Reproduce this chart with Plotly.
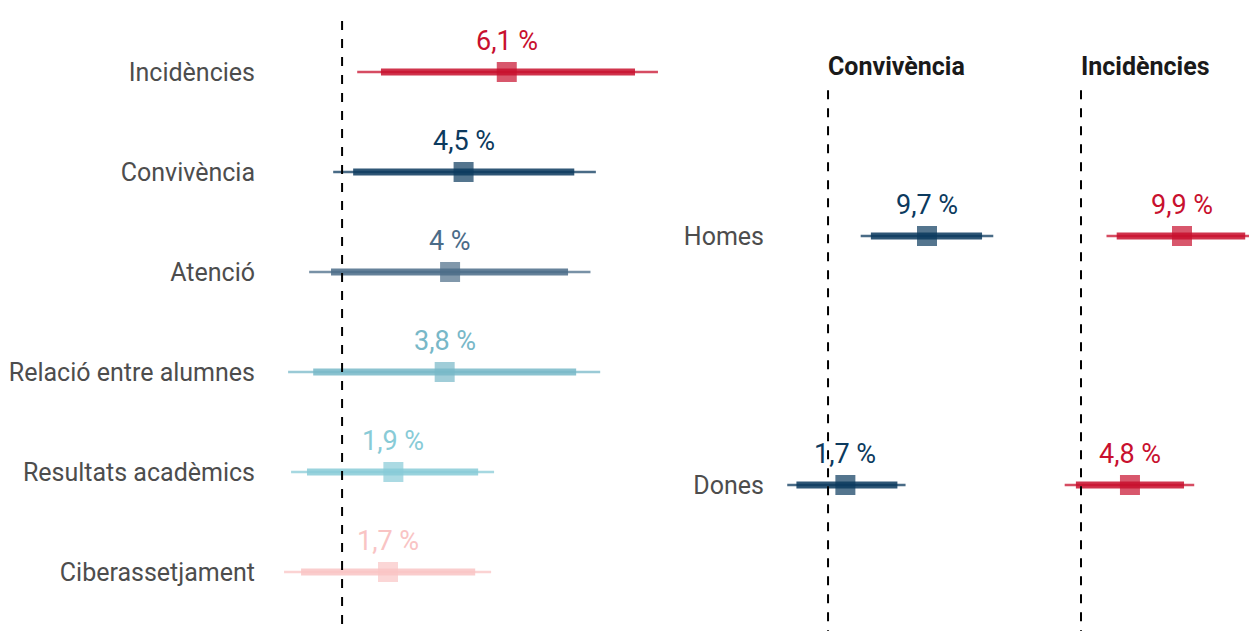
import plotly.graph_objects as go

# ── data ─────────────────────────────────────────────────────────────────────

AREAS = ["Incidències", "Convivència", "Atenció", "Relació entre alumnes",
         "Resultats acadèmics", "Ciberassetjament"]
AREA_EST = [6.1, 4.5, 4.0, 3.8, 1.9, 1.7]
AREA_LO95 = [0.56, -0.33, -1.22, -2.0, -1.89, -2.15]
AREA_HI95 = [11.7, 9.4, 9.2, 9.56, 5.63, 5.52]
AREA_LO80 = [1.44, 0.41, -0.41, -1.07, -1.3, -1.52]
AREA_HI80 = [10.85, 8.6, 8.37, 8.67, 5.04, 4.93]
AREA_COLORS = ["#c8102e", "#0c3a5e", "#4b6c88", "#78b8c8", "#88cbd7", "#f9c4c4"]

SEXES = ["Homes", "Dones"]
FACETS = ["Convivència", "Incidències"]
SEX_EST = {"Convivència": [9.7, 1.7], "Incidències": [9.9, 4.8]}
SEX_LO95 = {"Convivència": [3.2, -4.0], "Incidències": [2.5, -1.6]}
SEX_HI95 = {"Convivència": [16.2, 7.6], "Incidències": [17.8, 11.1]}
SEX_LO80 = {"Convivència": [4.2, -3.1], "Incidències": [3.5, -0.5]}
SEX_HI80 = {"Convivència": [15.1, 6.8], "Incidències": [16.1, 10.1]}
FACET_COLORS = {"Convivència": "#0c3a5e", "Incidències": "#c8102e"}

W, H = 1257, 631
FONT = "Roboto"


def pct(v):
    s = f"{v:.1f}".replace(".", ",")
    if s.endswith(",0"):
        s = s[:-2]
    return s + " %"


def rgba(hex_color, a):
    h = hex_color.lstrip("#")
    r, g, b = (int(h[i:i + 2], 16) for i in (0, 2, 4))
    return f"rgba({r},{g},{b},{a})"


def add_interval(fig, est, lo95, hi95, lo80, hi80, y, color, xa, ya):
    fig.add_trace(go.Scatter(x=[lo95, hi95], y=[y, y], mode="lines",
                             line=dict(color=rgba(color, 0.75), width=2.5),
                             xaxis=xa, yaxis=ya, hoverinfo="skip"))
    fig.add_trace(go.Scatter(x=[lo80, hi80], y=[y, y], mode="lines",
                             line=dict(color=rgba(color, 0.85), width=7),
                             xaxis=xa, yaxis=ya, hoverinfo="skip"))
    fig.add_trace(go.Scatter(x=[est], y=[y], mode="markers",
                             marker=dict(symbol="square", size=20,
                                         color=rgba(color, 0.7), line=dict(width=0)),
                             xaxis=xa, yaxis=ya))
    fig.add_annotation(x=est, y=y, xref=xa, yref=ya, text=pct(est),
                       showarrow=False, yshift=31,
                       font=dict(family=FONT, size=27, color=color))


fig = go.Figure()

# ── left panel: areas ─────────────────────────────────────────────────────────
n = len(AREAS)
for i, area in enumerate(AREAS):
    y = n - 1 - i
    add_interval(fig, AREA_EST[i], AREA_LO95[i], AREA_HI95[i],
                 AREA_LO80[i], AREA_HI80[i], y, AREA_COLORS[i], "x", "y")

# ── right panels: by sex ──────────────────────────────────────────────────────
for f, (facet, xa) in enumerate(zip(FACETS, ["x2", "x3"])):
    for j, sex in enumerate(SEXES):
        y = len(SEXES) - 1 - j
        add_interval(fig, SEX_EST[facet][j], SEX_LO95[facet][j], SEX_HI95[facet][j],
                     SEX_LO80[facet][j], SEX_HI80[facet][j], y,
                     FACET_COLORS[facet], xa, "y2")
    fig.add_annotation(x=0, y=1.679, xref=xa, yref="y2", text=f"<b>{facet}</b>",
                       showarrow=False, xanchor="left", xshift=-2,
                       font=dict(family=FONT, size=25, color="#1a1a1a"))

# zero reference lines
fig.add_shape(type="line", x0=0, x1=0, y0=-0.7, y1=5.6, xref="x", yref="y",
              line=dict(color="black", width=2, dash="dash"))
for xa in ["x2", "x3"]:
    fig.add_shape(type="line", x0=0, x1=0, y0=-0.62, y1=1.594, xref=xa, yref="y2",
                  line=dict(color="black", width=2, dash="dash"))

# the page body adds an 8 px offset, so the panels sit 8 px up/left of the target
hidden_x = dict(showgrid=False, zeroline=False, showticklabels=False, ticks="")
fig.update_layout(
    width=W, height=H,
    margin=dict(l=0, r=0, t=0, b=0),
    plot_bgcolor="white", paper_bgcolor="white",
    showlegend=False,
    font=dict(family=FONT, size=25, color="#4d4d4d"),
    xaxis=dict(domain=[262 / W, 664 / W], range=[-2.67, 12.22], **hidden_x),
    yaxis=dict(domain=[0, 1], range=[-0.67, 5.64], showgrid=False, zeroline=False,
               tickvals=list(range(n - 1, -1, -1)), ticktext=AREAS,
               ticks="", ticklabelstandoff=14, anchor="x"),
    xaxis2=dict(domain=[767 / W, 1022 / W], range=[-5.2, 19.8], anchor="y2", **hidden_x),
    xaxis3=dict(domain=[1032 / W, 1], range=[-4.02, 18.04], anchor="y2", **hidden_x),
    yaxis2=dict(domain=[0, 1], range=[-0.6185, 1.9157], showgrid=False, zeroline=False,
                tickvals=[1, 0], ticktext=SEXES, ticks="", ticklabelstandoff=10,
                anchor="x2"),
)

fig.write_html("out.html")
